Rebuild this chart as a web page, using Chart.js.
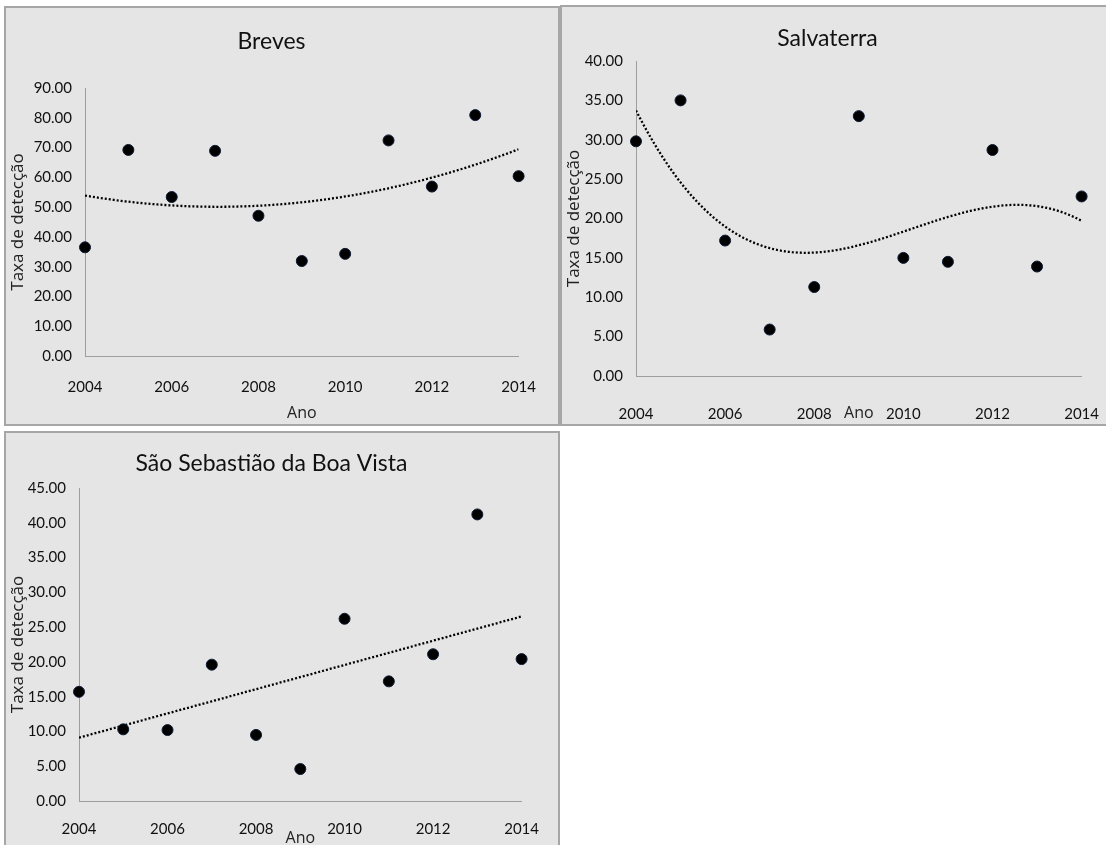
<!DOCTYPE html>
<html lang="pt">
<head>
<meta charset="utf-8">
<title>Taxa de detecção por município, 2004–2014</title>
<script src="https://cdn.jsdelivr.net/npm/chart.js@4.4.1/dist/chart.umd.min.js"></script>
<style>
  html, body { margin: 0; padding: 0; background: #fff; overflow: hidden; width: 1106px; height: 845px; }
  .panel { position: absolute; box-sizing: border-box; border: 2px solid #a6a6a6; background: #e5e5e5; }
  .panel canvas { display: block; }
  #p1 { left: 4px;   top: 6px;   width: 556px; height: 420px; }
  #p2 { left: 560px; top: 5px;   width: 570px; height: 421px; }
  #p3 { left: 4px;   top: 431px; width: 556px; height: 440px; }
</style>
</head>
<body>
<div class="panel" id="p1"><canvas id="c1" width="552" height="416"></canvas></div>
<div class="panel" id="p2"><canvas id="c2" width="566" height="417"></canvas></div>
<div class="panel" id="p3"><canvas id="c3" width="552" height="436"></canvas></div>
<script>
// Annual detection rates per municipality
const years = [2004, 2005, 2006, 2007, 2008, 2009, 2010, 2011, 2012, 2013, 2014];
const xTickYears = [2004, 2006, 2008, 2010, 2012, 2014];

const brevesRates       = [36.5, 69.2, 53.4, 68.9, 47.1, 31.9, 34.3, 72.4, 56.9, 80.9, 60.4];
const salvaterraRates   = [29.8, 35.0, 17.2, 5.9, 11.3, 33.0, 15.0, 14.5, 28.7, 13.9, 22.8];
const saoSebastiaoRates = [15.7, 10.3, 10.2, 19.6, 9.5, 4.6, 26.2, 17.2, 21.1, 41.2, 20.4];

const brevesYTicks       = [0, 10, 20, 30, 40, 50, 60, 70, 80, 90];
const salvaterraYTicks   = [0, 5, 10, 15, 20, 25, 30, 35, 40];
const saoSebastiaoYTicks = [0, 5, 10, 15, 20, 25, 30, 35, 40, 45];

// Polynomial order of each trend line
const brevesTrendOrder = 2;
const salvaterraTrendOrder = 3;
const saoSebastiaoTrendOrder = 1;

const labelFont = "Lato, 'DejaVu Sans Condensed', sans-serif";
const axisTitleFont = "'Open Sans', 'DejaVu Sans', sans-serif";

// Least-squares polynomial trend of the given order
function polyFit(xs, ys, order) {
  const n = order + 1;
  const x0 = xs[0];
  const A = Array.from({ length: n }, () => new Array(n + 1).fill(0));
  for (let i = 0; i < xs.length; i++) {
    const x = xs[i] - x0;
    for (let r = 0; r < n; r++) {
      for (let c = 0; c < n; c++) A[r][c] += Math.pow(x, r + c);
      A[r][n] += Math.pow(x, r) * ys[i];
    }
  }
  for (let k = 0; k < n; k++) {
    let p = k;
    for (let r = k + 1; r < n; r++) if (Math.abs(A[r][k]) > Math.abs(A[p][k])) p = r;
    [A[k], A[p]] = [A[p], A[k]];
    for (let r = k + 1; r < n; r++) {
      const f = A[r][k] / A[k][k];
      for (let c = k; c <= n; c++) A[r][c] -= f * A[k][c];
    }
  }
  const coef = new Array(n).fill(0);
  for (let k = n - 1; k >= 0; k--) {
    let s = A[k][n];
    for (let c = k + 1; c < n; c++) s -= A[k][c] * coef[c];
    coef[k] = s / A[k][k];
  }
  return x => coef.reduce((acc, a, i) => acc + a * Math.pow(x - x0, i), 0);
}

function drawPanel(canvasId, o) {
  const trend = polyFit(years, o.rates, o.order);
  const first = years[0], last = years[years.length - 1];
  const trendPoints = [];
  const steps = 120;
  for (let i = 0; i <= steps; i++) {
    const x = first + (last - first) * i / steps;
    trendPoints.push({ x, y: trend(x) });
  }

  new Chart(document.getElementById(canvasId), {
    type: 'scatter',
    data: {
      datasets: [
        {
          label: 'Tendência',
          data: trendPoints,
          showLine: true,
          borderColor: '#000',
          borderWidth: 2.3,
          borderDash: [2, 2],
          pointRadius: 0,
          order: 2
        },
        {
          label: o.title,
          data: years.map((yr, i) => ({ x: yr, y: o.rates[i] })),
          pointRadius: 5.5,
          pointBackgroundColor: '#000',
          pointBorderColor: '#0d1b33',
          pointBorderWidth: 1,
          clip: false,
          order: 1
        }
      ]
    },
    options: {
      responsive: false,
      animation: false,
      events: [],
      layout: { padding: { top: 0, left: 0, bottom: 0, right: o.rightPad } },
      plugins: {
        legend: { display: false },
        tooltip: { enabled: false },
        title: {
          display: true,
          text: o.title,
          color: '#111',
          font: { family: labelFont, size: 23, weight: 'normal', lineHeight: 1.2 },
          padding: { top: o.titlePadTop, bottom: o.titlePadBottom }
        }
      },
      scales: {
        x: {
          type: 'linear',
          min: first,
          max: last,
          afterBuildTicks: s => { s.ticks = xTickYears.map(v => ({ value: v })); },
          afterFit: s => { s.height = o.xAxisHeight; },
          grid: { display: false, drawTicks: false },
          border: { display: true, color: '#9e9e9e', width: 1 },
          ticks: {
            padding: o.xTickPad,
            color: '#111',
            maxRotation: 0,
            autoSkip: false,
            font: { family: labelFont, size: 15, lineHeight: 1.2 },
            callback: v => String(v)
          },
          title: {
            display: true,
            text: 'Ano',
            color: '#222',
            font: { family: axisTitleFont, size: 16, lineHeight: 1.2 },
            padding: { top: 0, bottom: o.xTitlePad }
          }
        },
        y: {
          min: o.yTicks[0],
          max: o.yTicks[o.yTicks.length - 1],
          afterBuildTicks: s => { s.ticks = o.yTicks.map(v => ({ value: v })); },
          afterFit: s => { s.width = o.yAxisWidth; },
          grid: { display: false, drawTicks: false },
          border: { display: true, color: '#9e9e9e', width: 1 },
          ticks: {
            padding: 13,
            color: '#111',
            font: { family: labelFont, size: 15, lineHeight: 1.2 },
            callback: v => v.toFixed(2)
          },
          title: {
            display: true,
            text: 'Taxa de detecção',
            color: '#222',
            font: { family: axisTitleFont, size: 17, lineHeight: 1.2 },
            padding: { top: 2, bottom: 0 }
          }
        }
      }
    }
  });
}

drawPanel('c1', {
  title: 'Breves', rates: brevesRates, order: brevesTrendOrder, yTicks: brevesYTicks,
  titlePadTop: 20.2, titlePadBottom: 32.2, rightPad: 21,
  yAxisWidth: 79, xAxisHeight: 68, xTickPad: 22, xTitlePad: 1.2
});
drawPanel('c2', {
  title: 'Salvaterra', rates: salvaterraRates, order: salvaterraTrendOrder, yTicks: salvaterraYTicks,
  titlePadTop: 18.2, titlePadBottom: 8.2, rightPad: 35,
  yAxisWidth: 74, xAxisHeight: 48, xTickPad: 29, xTitlePad: 1.2
});
drawPanel('c3', {
  title: 'São Sebastião da Boa Vista', rates: saoSebastiaoRates, order: saoSebastiaoTrendOrder, yTicks: saoSebastiaoYTicks,
  titlePadTop: 17.2, titlePadBottom: 10.2, rightPad: 21,
  yAxisWidth: 73, xAxisHeight: 68, xTickPad: 19, xTitlePad: 21.2
});
</script>
</body>
</html>
